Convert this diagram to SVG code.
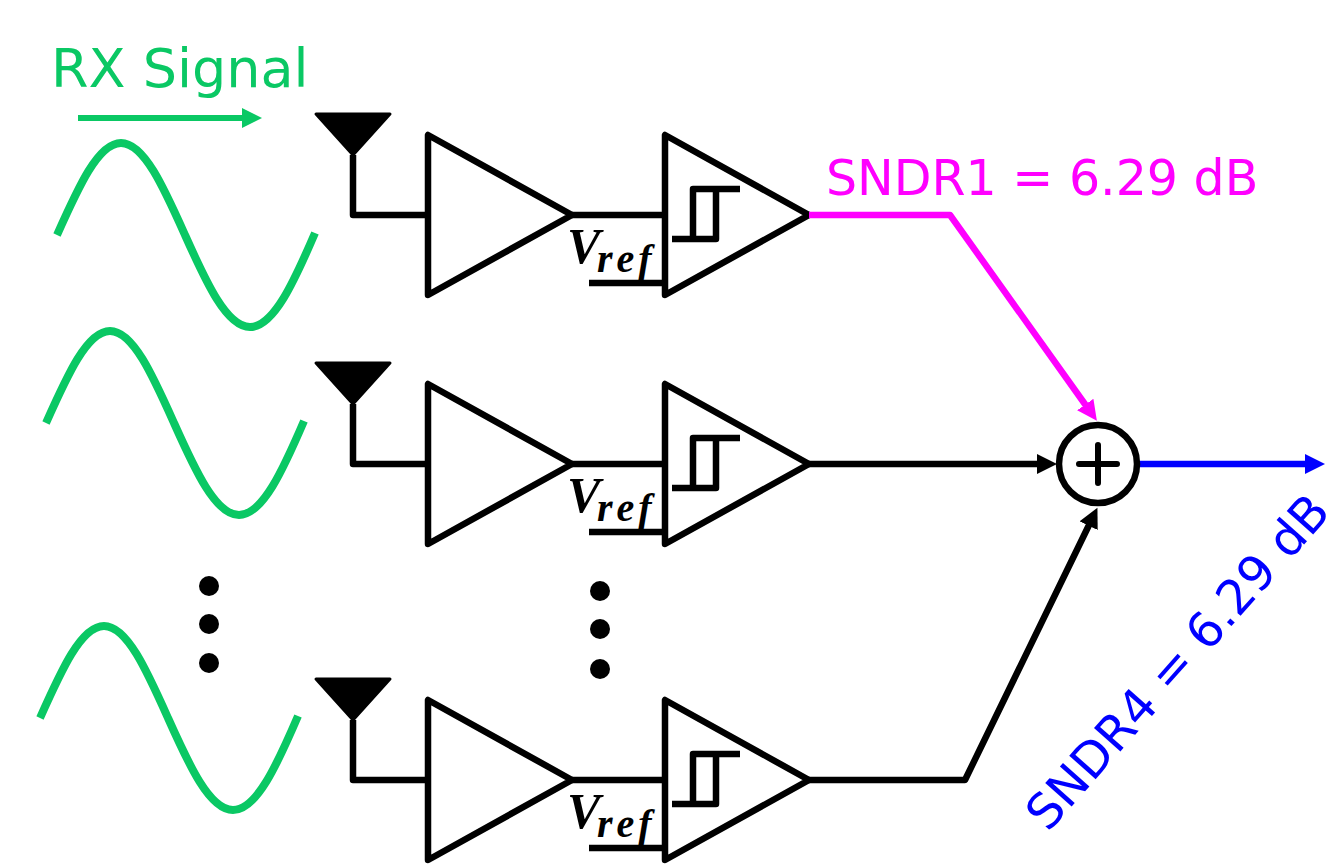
<svg xmlns="http://www.w3.org/2000/svg" width="1340" height="867" viewBox="0 0 1340 867">
<style>
.k{fill:none;stroke:#000;stroke-width:6.500;stroke-linejoin:round}
.g{fill:none;stroke:#0ac864;stroke-width:8;stroke-linejoin:round}
.ant{fill:#000;stroke:#000;stroke-width:3;stroke-linejoin:round}
.t{font-family:"DejaVu Sans",Verdana,sans-serif}
.v{font-family:"Liberation Serif",serif;font-weight:bold;font-style:italic;fill:#000}
</style>
<defs>
<marker id="ak" markerUnits="userSpaceOnUse" markerWidth="24" markerHeight="22" refX="3" refY="10" orient="auto"><path d="M0 0L20 10L0 20Z" fill="#000"/></marker>
<marker id="am" markerUnits="userSpaceOnUse" markerWidth="24" markerHeight="22" refX="3" refY="10" orient="auto"><path d="M0 0L20 10L0 20Z" fill="#f0f"/></marker>
<marker id="ab" markerUnits="userSpaceOnUse" markerWidth="24" markerHeight="22" refX="3" refY="10" orient="auto"><path d="M0 0L20 10L0 20Z" fill="#00f"/></marker>
<marker id="ag" markerUnits="userSpaceOnUse" markerWidth="24" markerHeight="22" refX="3" refY="10" orient="auto"><path d="M0 0L20 10L0 20Z" fill="#0ac864"/></marker>
<path id="sine" class="g" d="M57 235C78 188 98 143 121 143C144 143 164 188 185 235C206 282 226.500 327 250 327C273.500 327 294 282 315 233"/>
<g id="chain">
<path class="ant" d="M316 114H390L353 155Z"/>
<path class="k" d="M353 155V215H428"/>
<path class="k" d="M428 135V295L572 215Z"/>
<path class="k" d="M572 215H665"/>
<path class="k" d="M589 283H665"/>
<path class="k" d="M665 135V295L809 215Z"/>
<path class="k" d="M672 239H716V189H693V239M693 189H740"/>
<text class="v" x="567" y="263" font-size="50">V</text>
<text class="v" x="597" y="272" font-size="40" letter-spacing="4">ref</text>
</g>
</defs>
<g id="signal-label"><text class="t" x="51" y="87" font-size="54" fill="#0ac864">RX Signal</text></g>
<g id="waves">
<use href="#sine"/>
<use href="#sine" transform="translate(-11 188)"/>
<use href="#sine" transform="translate(-17 483)"/>
</g>
<g id="row1"><use href="#chain"/></g>
<g id="row2"><use href="#chain" transform="translate(0 249)"/></g>
<g id="row3"><use href="#chain" transform="translate(0 565)"/></g>
<g id="dots" fill="#000">
<circle cx="209" cy="586" r="10"/><circle cx="209" cy="624" r="10"/><circle cx="209" cy="663" r="10"/>
<circle cx="600" cy="591" r="10"/><circle cx="600" cy="629" r="10"/><circle cx="600" cy="669" r="10"/>
</g>
<g id="connectors">
<path d="M78 118H245" fill="none" stroke="#0ac864" stroke-width="6" marker-end="url(#ag)"/>
<path d="M809 215H950L1087 407" fill="none" stroke="#f0f" stroke-width="6.500" stroke-linejoin="round" marker-end="url(#am)"/>
<path d="M807 464H1040" fill="none" stroke="#000" stroke-width="6.500" marker-end="url(#ak)"/>
<path d="M807 780H965L1090 523" fill="none" stroke="#000" stroke-width="6.500" stroke-linejoin="round" marker-end="url(#ak)"/>
<path d="M1138 464H1308" fill="none" stroke="#00f" stroke-width="6.500" marker-end="url(#ab)"/>
</g>
<g id="summer">
<circle cx="1098" cy="464" r="39" fill="#fff" stroke="#000" stroke-width="6.500"/>
<path d="M1079 464H1117M1098 445V483" stroke="#000" stroke-width="6" stroke-linecap="round"/>
</g>
<g id="sndr1"><text class="t" x="826" y="195" font-size="49" fill="#f0f">SNDR1 = 6.29 dB</text></g>
<g id="sndr4"><text class="t" transform="translate(1048 833) rotate(-48.4)" font-size="48.500" fill="#00f">SNDR4 = 6.29 dB</text></g>
</svg>
